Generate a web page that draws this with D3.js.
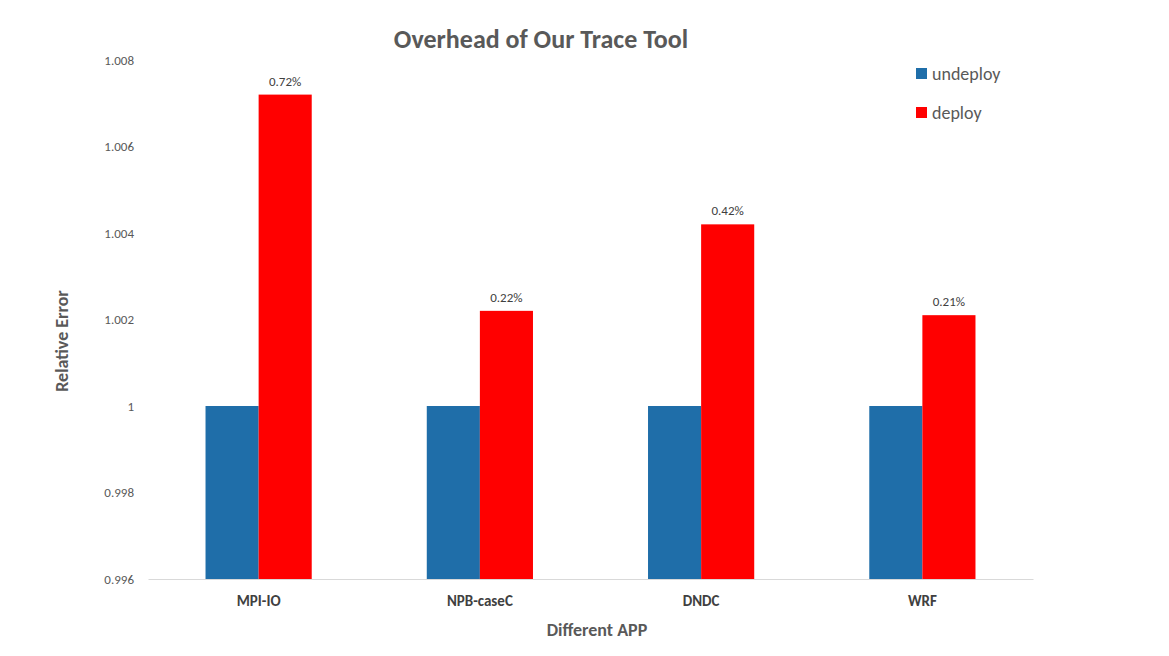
<!DOCTYPE html>
<html><head><meta charset="utf-8">
<script src="https://cdn.jsdelivr.net/npm/d3@7"></script>
<style>body{margin:0;background:#fff}</style>
</head><body><div id="chart"></div>
<script>
const apps = ['MPI-IO', 'NPB-caseC', 'DNDC', 'WRF'];
const undeploy = [1, 1, 1, 1];
const deploy = [1.0072, 1.0022, 1.0042, 1.0021];
const deployLabels = ['0.72%', '0.22%', '0.42%', '0.21%'];
const yTicks = [0.996, 0.998, 1, 1.002, 1.004, 1.006, 1.008];

const width = 1169, height = 656;
const margin = { top: 60, bottom: 77, left: 148, right: 136 };
const font = 'Calibri, Carlito, "Open Sans", sans-serif';

const svg = d3.select('#chart').append('svg')
  .attr('width', width).attr('height', height)
  .style('font-family', font);

const x = d3.scaleBand().domain(apps)
  .range([margin.left, width - margin.right]).paddingInner(0.52).paddingOuter(0.26);
const sub = d3.scaleBand().domain(['undeploy', 'deploy']).range([0, x.bandwidth()]);
const y = d3.scaleLinear().domain([0.996, 1.008]).range([height - margin.bottom, margin.top]);

const series = [
  { name: 'undeploy', values: undeploy, color: '#1f6ea9' },
  { name: 'deploy', values: deploy, color: '#ff0000' }
];

series.forEach(s => {
  svg.append('g').attr('fill', s.color)
    .selectAll('rect').data(s.values).join('rect')
    .attr('x', (d, i) => x(apps[i]) + sub(s.name))
    .attr('y', d => y(d))
    .attr('width', sub.bandwidth())
    .attr('height', d => y(0.996) - y(d));
});

svg.append('g').selectAll('text').data(deploy).join('text')
  .attr('x', (d, i) => x(apps[i]) + sub('deploy') + sub.bandwidth() / 2)
  .attr('y', d => y(d) - 9)
  .attr('text-anchor', 'middle').attr('font-size', 13).attr('fill', '#404040')
  .text((d, i) => deployLabels[i]);

const yAxis = svg.append('g').attr('transform', `translate(${margin.left},0)`)
  .call(d3.axisLeft(y).tickValues(yTicks).tickSize(0).tickPadding(14)
    .tickFormat(d => d === 1 ? '1' : d3.format('.3f')(d)));
yAxis.select('.domain').remove();
yAxis.selectAll('text').attr('font-size', 13).attr('fill', '#595959').style('font-family', font);

const xAxis = svg.append('g').attr('transform', `translate(0,${y(0.996)})`)
  .call(d3.axisBottom(x).tickSize(0).tickPadding(16));
xAxis.select('.domain').attr('stroke', '#d9d9d9');
xAxis.selectAll('text').attr('font-size', 15).attr('font-weight', 'bold')
  .attr('fill', '#404040').style('font-family', font);

svg.append('text').attr('x', 541).attr('y', 48).attr('text-anchor', 'middle')
  .attr('font-size', 26).attr('font-weight', 'bold').attr('fill', '#595959')
  .text('Overhead of Our Trace Tool');

svg.append('text').attr('x', 597).attr('y', 636).attr('text-anchor', 'middle')
  .attr('font-size', 18).attr('font-weight', 'bold').attr('fill', '#595959')
  .text('Different APP');

svg.append('text').attr('transform', 'translate(68,341) rotate(-90)').attr('text-anchor', 'middle')
  .attr('font-size', 18).attr('font-weight', 'bold').attr('fill', '#595959')
  .text('Relative Error');

const legend = svg.append('g').selectAll('g').data(series).join('g')
  .attr('transform', (d, i) => `translate(916,${74 + i * 39})`);
legend.append('rect').attr('x', 0).attr('y', -6).attr('width', 11).attr('height', 11)
  .attr('fill', d => d.color);
legend.append('text').attr('x', 16).attr('y', 6).attr('font-size', 18).attr('fill', '#595959')
  .text(d => d.name);
</script></body></html>
